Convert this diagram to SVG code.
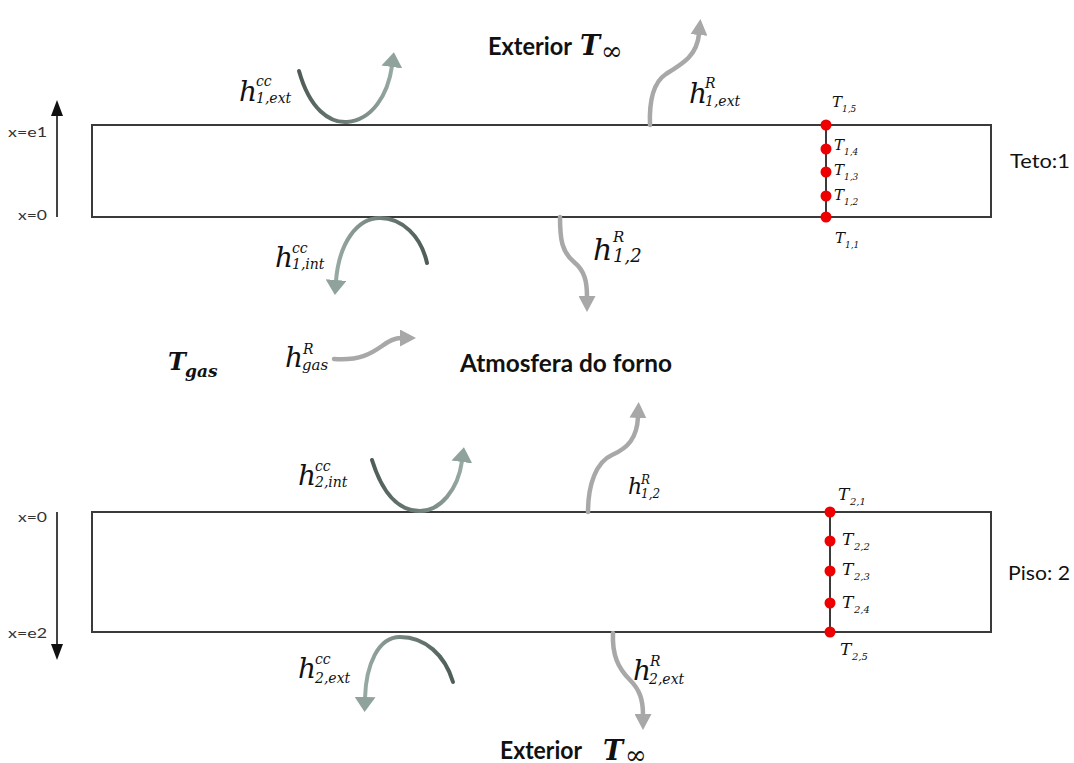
<svg xmlns="http://www.w3.org/2000/svg" width="1074" height="763" viewBox="0 0 1074 763">
  <style>
    .wall { fill: #ffffff; stroke: #3a3a3a; stroke-width: 2; }
    .probe { stroke: #3a3a3a; stroke-width: 2; }
    .dot { fill: #ee0000; }
    .sans { font-family: Lato, "Liberation Sans", sans-serif; fill: #111; }
    .bold { font-weight: bold; }
    .small { font-size: 14px; fill: #333; }
    .m { font-family: "DejaVu Serif", "Liberation Serif", serif; font-style: italic; fill: #111; }
    .h { font-size: 28px; }
    .s { font-size: 14px; }
    .t { font-size: 15px; }
    .ts { font-size: 9px; }
    .t2 { font-size: 17px; }
    .ts2 { font-size: 10px; }
    .conv { fill: none; stroke-width: 4; stroke-linecap: round; }
    .rad { fill: none; stroke: #a8a8a8; stroke-width: 4.5; stroke-linecap: round; }
    .axis { fill: none; stroke: #444; stroke-width: 2; }
  </style>
  <defs>
    <linearGradient id="gLR" x1="0" y1="0" x2="1" y2="0">
      <stop offset="0" stop-color="#4f5d58"/>
      <stop offset="0.5" stop-color="#6e7d78"/>
      <stop offset="1" stop-color="#97a9a3"/>
    </linearGradient>
    <linearGradient id="gRL" x1="1" y1="0" x2="0" y2="0">
      <stop offset="0" stop-color="#4f5d58"/>
      <stop offset="0.5" stop-color="#6e7d78"/>
      <stop offset="1" stop-color="#97a9a3"/>
    </linearGradient>
    <marker id="mConv" viewBox="0 0 15 21" markerWidth="15" markerHeight="21" refX="1" refY="10.5" orient="auto" markerUnits="userSpaceOnUse">
      <path d="M0,0 L15,10.5 L0,21 z" fill="#8fa29c"/>
    </marker>
    <marker id="mRad" viewBox="0 0 16 17" markerWidth="16" markerHeight="17" refX="1" refY="8.5" orient="auto" markerUnits="userSpaceOnUse">
      <path d="M0,0 L16,8.5 L0,17 z" fill="#a8a8a8"/>
    </marker>
    <marker id="mAxis" viewBox="0 0 16 12" markerWidth="16" markerHeight="12" refX="1" refY="6" orient="auto" markerUnits="userSpaceOnUse">
      <path d="M0,0 L16,6 L0,12 z" fill="#111"/>
    </marker>
  </defs>

  <rect width="1074" height="763" fill="#ffffff"/>

  <!-- Teto (ceiling) wall -->
  <g id="teto">
    <rect class="wall" x="92" y="125" width="899" height="92"/>
    <line class="probe" x1="826" y1="125" x2="826" y2="217"/>
    <circle class="dot" cx="826" cy="125" r="5.5"/>
    <circle class="dot" cx="826" cy="149" r="5.5"/>
    <circle class="dot" cx="826" cy="172" r="5.5"/>
    <circle class="dot" cx="826" cy="196" r="5.5"/>
    <circle class="dot" cx="826" cy="217" r="5.5"/>
    <text class="m t" x="832" y="107">T<tspan class="ts" x="842" y="112">1,5</tspan></text>
    <text class="m t" x="834" y="150">T<tspan class="ts" x="844" y="155">1,4</tspan></text>
    <text class="m t" x="834" y="175">T<tspan class="ts" x="844" y="180">1,3</tspan></text>
    <text class="m t" x="834" y="200">T<tspan class="ts" x="844" y="205">1,2</tspan></text>
    <text class="m t" x="835" y="243">T<tspan class="ts" x="845" y="248">1,1</tspan></text>
    <text class="sans" x="1010" y="168" font-size="19" textLength="60" lengthAdjust="spacingAndGlyphs">Teto:1</text>
  </g>

  <!-- Piso (floor) wall -->
  <g id="piso">
    <rect class="wall" x="92" y="512" width="899" height="120"/>
    <line class="probe" x1="830" y1="512" x2="830" y2="632"/>
    <circle class="dot" cx="830" cy="512" r="5.5"/>
    <circle class="dot" cx="830" cy="541" r="5.5"/>
    <circle class="dot" cx="830" cy="571" r="5.5"/>
    <circle class="dot" cx="830" cy="603" r="5.5"/>
    <circle class="dot" cx="830" cy="632" r="5.5"/>
    <text class="m t2" x="838" y="500">T<tspan class="ts2" x="850" y="505">2,1</tspan></text>
    <text class="m t2" x="842" y="545">T<tspan class="ts2" x="854" y="550">2,2</tspan></text>
    <text class="m t2" x="842" y="575">T<tspan class="ts2" x="854" y="580">2,3</tspan></text>
    <text class="m t2" x="842" y="608">T<tspan class="ts2" x="854" y="613">2,4</tspan></text>
    <text class="m t2" x="840" y="655">T<tspan class="ts2" x="852" y="660">2,5</tspan></text>
    <text class="sans" x="1008" y="580" font-size="19" textLength="62" lengthAdjust="spacingAndGlyphs">Piso: 2</text>
  </g>

  <!-- Axes -->
  <g id="axis-teto">
    <line class="axis" x1="57" y1="217" x2="57" y2="115" marker-end="url(#mAxis)"/>
    <text class="sans small" x="8" y="137" textLength="39" lengthAdjust="spacingAndGlyphs">x=e1</text>
    <text class="sans small" x="18" y="220" textLength="29" lengthAdjust="spacingAndGlyphs">x=0</text>
  </g>
  <g id="axis-piso">
    <line class="axis" x1="57" y1="512" x2="57" y2="645" marker-end="url(#mAxis)"/>
    <text class="sans small" x="18" y="522" textLength="29" lengthAdjust="spacingAndGlyphs">x=0</text>
    <text class="sans small" x="8" y="638" textLength="39" lengthAdjust="spacingAndGlyphs">x=e2</text>
  </g>

  <!-- Region labels -->
  <g id="exterior-top">
    <text class="sans bold" x="488" y="55" font-size="24" textLength="84" lengthAdjust="spacingAndGlyphs">Exterior</text>
    <text class="m" x="580" y="55" font-size="27" font-weight="bold">T</text>
    <text x="601" y="60" font-family="DejaVu Serif, serif" font-size="26" fill="#111">∞</text>
  </g>
  <g id="atmosfera">
    <text class="sans bold" x="460" y="372" font-size="24" textLength="212" lengthAdjust="spacingAndGlyphs">Atmosfera do forno</text>
  </g>
  <g id="tgas">
    <text class="m" x="168" y="370" font-size="24" font-weight="bold">T<tspan x="185" y="377" font-size="17">gas</tspan></text>
  </g>
  <g id="exterior-bottom">
    <text class="sans bold" x="500" y="759" font-size="24" textLength="82" lengthAdjust="spacingAndGlyphs">Exterior</text>
    <text class="m" x="603" y="760" font-size="27" font-weight="bold">T</text>
    <text x="625" y="764" font-family="DejaVu Serif, serif" font-size="26" fill="#111">∞</text>
  </g>

  <!-- Connectors -->
  <g id="connectors">
    <path class="conv" stroke="url(#gLR)" d="M299,71 C310,110 330,123 347,122 C372,120 388,95 392,66" marker-end="url(#mConv)"/>
    <path class="rad" d="M650,125 C649,100 654,82 666,74 C684,63 697,55 699,34" marker-end="url(#mRad)"/>
    <path class="conv" stroke="url(#gRL)" d="M427,263 C421,236 402,218 380,218 C357,218 339,243 336,281" marker-end="url(#mConv)"/>
    <path class="rad" d="M560,217 C560,240 562,252 574,262 C585,271 587,282 587,297" marker-end="url(#mRad)"/>
    <path class="rad" d="M334,359 C360,361 372,353 382,346 C390,340 395,338 401,338" marker-end="url(#mRad)"/>
    <path class="conv" stroke="url(#gLR)" d="M372,460 C382,492 398,511 420,511 C440,511 458,490 462,461" marker-end="url(#mConv)"/>
    <path class="rad" d="M588,512 C588,485 596,462 612,455 C628,448 637,438 638,417" marker-end="url(#mRad)"/>
    <path class="conv" stroke="url(#gRL)" d="M453,682 C445,655 425,637 400,637 C378,637 366,665 365,698" marker-end="url(#mConv)"/>
    <path class="rad" d="M613,633 C612,655 618,668 630,680 C640,690 643,700 643,715" marker-end="url(#mRad)"/>
  </g>

  <!-- Coefficient labels -->
  <g id="h-1ext-cc">
    <text class="m h" x="239" y="101">h<tspan class="s" x="256" y="86">cc</tspan><tspan class="s" x="256" y="103">1,ext</tspan></text>
  </g>
  <g id="h-1ext-r">
    <text class="m h" x="689" y="103">h<tspan class="s" x="705" y="88">R</tspan><tspan class="s" x="705" y="106">1,ext</tspan></text>
  </g>
  <g id="h-1int-cc">
    <text class="m h" x="275" y="267">h<tspan class="s" x="292" y="253">cc</tspan><tspan class="s" x="292" y="269">1,int</tspan></text>
  </g>
  <g id="h-12-r-top">
    <text class="m" x="593" y="260" font-size="30">h<tspan x="613" y="242" font-size="15">R</tspan><tspan x="613" y="262" font-size="18">1,2</tspan></text>
  </g>
  <g id="h-gas-r">
    <text class="m h" x="285" y="367">h<tspan class="s" x="303" y="354">R</tspan><tspan x="302" y="370" font-size="15">gas</tspan></text>
  </g>
  <g id="h-2int-cc">
    <text class="m h" x="298" y="485">h<tspan class="s" x="315" y="471">cc</tspan><tspan class="s" x="315" y="487">2,int</tspan></text>
  </g>
  <g id="h-12-r-bottom">
    <text class="m" x="628" y="494" font-size="22">h<tspan x="641" y="484" font-size="12">R</tspan><tspan x="641" y="498" font-size="12">1,2</tspan></text>
  </g>
  <g id="h-2ext-cc">
    <text class="m h" x="298" y="678">h<tspan class="s" x="315" y="664">cc</tspan><tspan class="s" x="315" y="683">2,ext</tspan></text>
  </g>
  <g id="h-2ext-r">
    <text class="m h" x="633" y="680">h<tspan class="s" x="650" y="666">R</tspan><tspan class="s" x="649" y="684">2,ext</tspan></text>
  </g>
</svg>
